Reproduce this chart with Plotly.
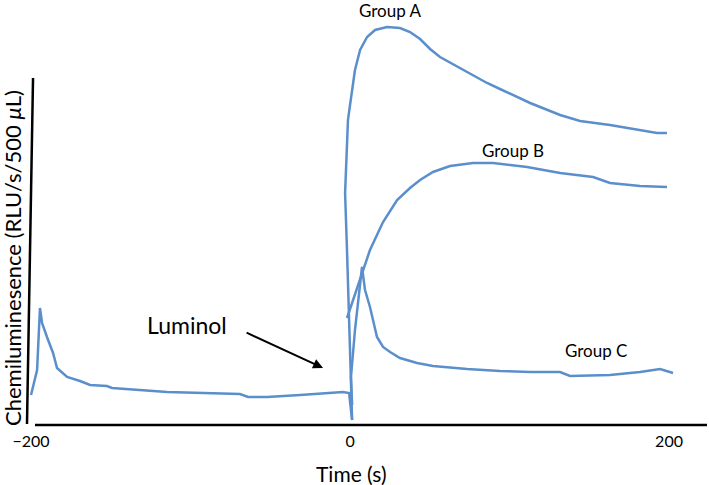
import plotly.graph_objects as go

# time (s) and signal (arbitrary units, no y ticks in the original)
luminol_t = [-200.0, -197.5, -196.2, -194.4, -193.1, -190.0, -186.2, -183.7, -177.4, -169.3,
             -163.0, -152.4, -149.2, -114.7, -69.0, -63.9, -52.0, -31.3, -10.7, -4.4, -0.6, 1.3]
luminol_y = [30, 45, 55, 117, 102, 88, 72, 57, 48, 44,
             40, 39, 37, 33, 31, 28, 28, 30, 32, 33, 32, 5]

group_a_t = [1.3, 0.0, -1.9, -3.1, -1.9, -1.3, 0.0, 1.9, 3.1, 6.3, 10.7, 15.7, 23.2, 31.3,
             37.6, 43.9, 50.2, 56.4, 73.4, 85.9, 94.0, 112.9, 131.7, 144.2, 163.0, 181.8, 192.5, 198.7]
group_a_y = [5, 85, 175, 232, 275, 305, 320, 340, 355, 375, 388, 395, 398, 397,
             393, 386, 376, 368, 353, 342, 336, 322, 310, 304, 300, 295, 292, 292]

group_b_t = [-1.9, 1.9, 7.5, 12.5, 20.7, 29.5, 37.6, 43.9, 52.0, 62.7, 77.1, 89.7, 111.0,
             131.7, 152.4, 163.0, 181.8, 192.5, 198.7]
group_b_y = [107, 125, 150, 175, 203, 225, 237, 245, 253, 259, 262, 262, 258,
             252, 248, 242, 239, 238, 238]

group_c_t = [1.3, 0.6, 3.1, 5.0, 7.5, 9.4, 12.5, 16.9, 20.7, 25.1, 31.3, 42.0, 52.0,
             73.4, 94.0, 112.9, 131.7, 137.9, 163.0, 181.8, 194.4, 202.5]
group_c_y = [20, 48, 95, 125, 158, 135, 118, 88, 78, 73, 67, 62, 59,
             56, 54, 53, 53, 49, 50, 53, 56, 52]

tick_vals = [-200, 0, 200]
tick_text = ["\u2212200", "0", "200"]

line_color = "#5B8FCB"
font_name = "Lato"

fig = go.Figure()
for t, y in [(luminol_t, luminol_y), (group_a_t, group_a_y),
             (group_b_t, group_b_y), (group_c_t, group_c_y)]:
    fig.add_trace(go.Scatter(x=t, y=y, mode="lines",
                             line=dict(color=line_color, width=2.5),
                             showlegend=False, hoverinfo="skip"))

fig.update_layout(
    width=709, height=485,
    margin=dict(l=28, r=2, t=0, b=60),
    paper_bgcolor="white", plot_bgcolor="white",
    font=dict(family=font_name, color="black"),
    xaxis=dict(range=[-201.9, 223.8], tickvals=tick_vals, ticktext=tick_text,
               showgrid=False, zeroline=False, showline=False, ticks="",
               ticklabelstandoff=5,
               tickfont=dict(size=16, family=font_name, color="black")),
    yaxis=dict(range=[0, 425], visible=False),
)

# axes drawn by hand: the y line leans a little in the original
fig.add_shape(type="line", xref="paper", yref="paper",
              x0=0.0103, y0=0, x1=1.0, y1=0, line=dict(color="black", width=2.5))
fig.add_shape(type="line", xref="paper", yref="paper",
              x0=-0.0015, y0=0.0024, x1=0.0074, y1=0.8165, line=dict(color="black", width=2.5))

fig.add_annotation(text="Time (s)", xref="paper", yref="paper", x=0.477, y=-0.113,
                   showarrow=False, font=dict(size=21, family=font_name), yanchor="middle")
fig.add_annotation(text="Chemiluminesence (RLU/s/500 <i>\u03bc</i>L)", xref="paper", yref="paper",
                   x=-0.022, y=0.393, textangle=-90, showarrow=False,
                   font=dict(size=22, family=font_name), xanchor="center", yanchor="middle")

for label, lx, ly in [("Group A", 25.1, 415), ("Group B", 102.2, 275), ("Group C", 154.2, 75)]:
    fig.add_annotation(text=label, x=lx, y=ly, showarrow=False, font=dict(size=17, family=font_name))

fig.add_annotation(text="Luminol", x=-102.2, y=100, showarrow=False, font=dict(size=23, family=font_name))
fig.add_annotation(text="", x=-16.9, y=57, ax=-78, ay=-36, showarrow=True,
                   arrowhead=2, arrowsize=1, arrowwidth=2, arrowcolor="black", standoff=0)

# page body has an 8px default margin; drop it so the figure sits at the corner
fig.write_html("out.html", config={"displayModeBar": False},
               post_script="document.body.style.margin='0px';")
